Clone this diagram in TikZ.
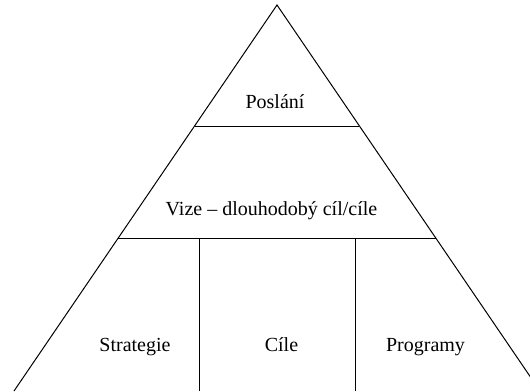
\documentclass[tikz,border=0pt]{standalone}
\usepackage{fontspec}
\setmainfont{Liberation Serif}
\newfontfamily\tmsfont{Liberation Serif}
\begin{document}
\begin{tikzpicture}[x=1pt,y=-1pt,
  edge/.style={draw=black,line width=1pt},
  lbl/.style={font=\tmsfont\fontsize{20}{24}\selectfont,inner sep=0pt,anchor=base}]
\useasboundingbox (0,0) rectangle (530,391);
\clip (0,0) rectangle (530,391);
\coordinate (apex) at (277,5);
\coordinate (bl) at (14,391);
\coordinate (br) at (540,391);
\coordinate (l1) at (194.6,126);
\coordinate (r1) at (359.4,126);
\coordinate (l2) at (118.2,238);
\coordinate (r2) at (435.8,238);
\coordinate (v1t) at (199,238);
\coordinate (v1b) at (199,391);
\coordinate (v2t) at (355,238);
\coordinate (v2b) at (355,391);
\draw[edge] (bl) -- (apex) -- (br);
\draw[edge] (l1) -- (r1);
\draw[edge] (l2) -- (r2);
\draw[edge] (v1t) -- (v1b);
\draw[edge] (v2t) -- (v2b);
\node[lbl] (poslani) at (275,108.5) {Poslání};
\node[lbl] (vize) at (271.5,215.5) {Vize – dlouhodobý cíl/cíle};
\node[lbl] (strategie) at (135,351) {Strategie};
\node[lbl] (cile) at (281.5,351) {Cíle};
\node[lbl] (programy) at (425.5,351) {Programy};
\end{tikzpicture}
\end{document}
